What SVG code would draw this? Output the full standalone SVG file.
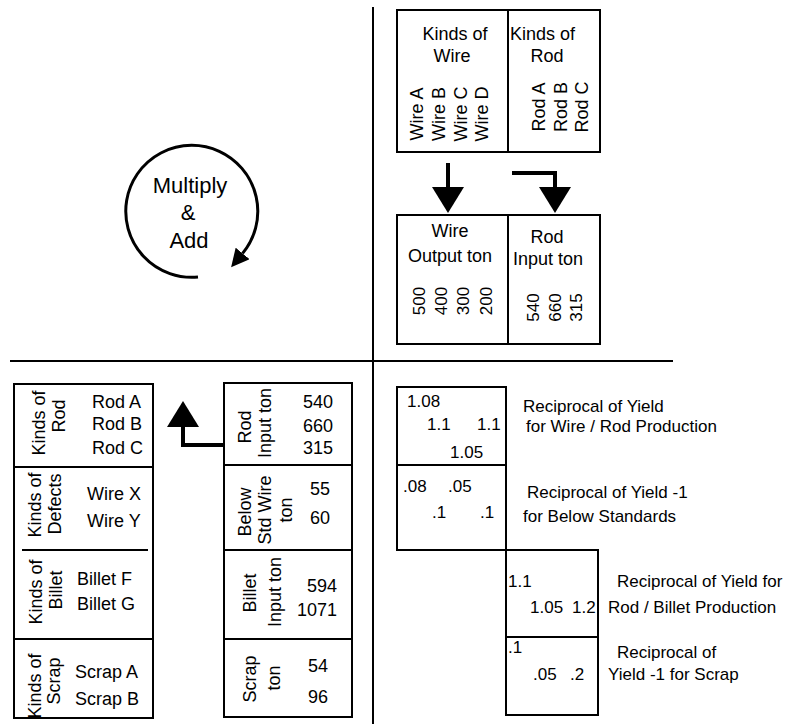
<svg xmlns="http://www.w3.org/2000/svg" width="804" height="724" viewBox="0 0 804 724">
<style>
text{font-family:"Liberation Sans",Arial,Helvetica,sans-serif;font-size:18px;fill:#000}
.s{font-size:17px}
.m{text-anchor:middle}
.e{text-anchor:end}
.box{fill:none;stroke:#000;stroke-width:2}
.ln{stroke:#000;stroke-width:2;fill:none}
.arr{stroke:#000;stroke-width:4;fill:none;marker-end:url(#big)}
</style>
<defs>
<marker id="big" markerUnits="userSpaceOnUse" viewBox="0 -16 26 32" refX="0" refY="0" markerWidth="26" markerHeight="32" orient="auto"><path d="M0,-16 L26,0 L0,16 z" fill="#000"/></marker>
<marker id="small" markerUnits="userSpaceOnUse" viewBox="0 -9 18 18" refX="0" refY="0" markerWidth="18" markerHeight="18" orient="auto"><path d="M0,-9 L18,0 L0,9 z" fill="#000"/></marker>
</defs>
<rect width="804" height="724" fill="#fff"/>
<g id="frame">
<line class="ln" x1="373" y1="7" x2="373" y2="724"/>
<line class="ln" x1="10" y1="361" x2="673" y2="361"/>
</g>
<g id="kinds-wire-rod">
<rect class="box" x="397" y="10" width="203" height="142"/>
<line class="ln" x1="508" y1="10" x2="508" y2="152"/>
<text class="m" x="455" y="40">Kinds of</text>
<text class="m" x="452" y="62">Wire</text>
<text x="510" y="40">Kinds of</text>
<text class="m" x="547" y="62">Rod</text>
<text class="m" transform="translate(423,114) rotate(-90)">Wire A</text>
<text class="m" transform="translate(445,114) rotate(-90)">Wire B</text>
<text class="m" transform="translate(466.5,114) rotate(-90)">Wire C</text>
<text class="m" transform="translate(488,114) rotate(-90)">Wire D</text>
<text class="m" transform="translate(545,107) rotate(-90)">Rod A</text>
<text class="m" transform="translate(566.5,107) rotate(-90)">Rod B</text>
<text class="m" transform="translate(588,107) rotate(-90)">Rod C</text>
</g>
<g id="output-input">
<rect class="box" x="397" y="215" width="203" height="129"/>
<line class="ln" x1="508" y1="215" x2="508" y2="344"/>
<text class="m" x="450" y="237">Wire</text>
<text class="m" x="450" y="262">Output ton</text>
<text class="m" x="547" y="243">Rod</text>
<text class="m" x="548" y="265">Input ton</text>
<text class="m s" transform="translate(425,301) rotate(-90)">500</text>
<text class="m s" transform="translate(447,301) rotate(-90)">400</text>
<text class="m s" transform="translate(469,301) rotate(-90)">300</text>
<text class="m s" transform="translate(492,301) rotate(-90)">200</text>
<text class="m s" transform="translate(539,307.5) rotate(-90)">540</text>
<text class="m s" transform="translate(561,307.5) rotate(-90)">660</text>
<text class="m s" transform="translate(582,307.5) rotate(-90)">315</text>
</g>
<g id="multiply-add">
<path d="M198,277 A66,66 0 1 1 242.6,253.4" fill="none" stroke="#000" stroke-width="3" marker-end="url(#small)"/>
<text class="m" style="font-size:22px" x="190" y="193">Multiply</text>
<text class="m" style="font-size:22px" x="188" y="220">&amp;</text>
<text class="m" style="font-size:22px" x="189" y="248">Add</text>
</g>
<g id="kinds-table">
<rect class="box" x="14" y="384" width="139" height="334"/>
<line class="ln" x1="14" y1="467" x2="153" y2="467"/>
<line class="ln" x1="22" y1="550" x2="148" y2="550"/>
<line class="ln" x1="14" y1="639" x2="153" y2="639"/>
<text class="m" transform="translate(45,423) rotate(-90)">Kinds of</text>
<text class="m" transform="translate(65,416) rotate(-90)">Rod</text>
<text x="92" y="408">Rod A</text>
<text x="92" y="430">Rod B</text>
<text x="92" y="454">Rod C</text>
<text class="m" transform="translate(41,505) rotate(-90)">Kinds of</text>
<text class="m" transform="translate(61,504) rotate(-90)">Defects</text>
<text x="87" y="500">Wire X</text>
<text x="87" y="527">Wire Y</text>
<text class="m" transform="translate(42,592) rotate(-90)">Kinds of</text>
<text class="m" transform="translate(62,590) rotate(-90)">Billet</text>
<text x="77" y="585">Billet F</text>
<text x="77" y="610">Billet G</text>
<text class="m" transform="translate(41,686) rotate(-90)">Kinds of</text>
<text class="m" transform="translate(60,681) rotate(-90)">Scrap</text>
<text x="75" y="678">Scrap A</text>
<text x="75" y="705">Scrap B</text>
</g>
<g id="ton-table">
<rect class="box" x="224" y="383" width="128" height="334"/>
<line class="ln" x1="224" y1="465" x2="352" y2="465"/>
<line class="ln" x1="224" y1="550" x2="352" y2="550"/>
<line class="ln" x1="224" y1="639" x2="352" y2="639"/>
<text class="m" transform="translate(251,427) rotate(-90)">Rod</text>
<text class="m" transform="translate(271,423) rotate(-90)">Input ton</text>
<text x="303" y="408">540</text>
<text x="303" y="432">660</text>
<text x="303" y="454">315</text>
<text class="m" transform="translate(251,512) rotate(-90)">Below</text>
<text class="m" transform="translate(271,510) rotate(-90)">Std Wire</text>
<text class="m" transform="translate(292,510) rotate(-90)">ton</text>
<text x="310" y="495">55</text>
<text x="310" y="524">60</text>
<text class="m" transform="translate(256,593) rotate(-90)">Billet</text>
<text class="m" transform="translate(281,592) rotate(-90)">Input ton</text>
<text class="e" x="337" y="592">594</text>
<text class="e" x="337" y="616">1071</text>
<text class="m" transform="translate(256,679) rotate(-90)">Scrap</text>
<text class="m" transform="translate(280,678) rotate(-90)">ton</text>
<text x="308" y="672">54</text>
<text x="308" y="703">96</text>
</g>
<g id="yield-wire-rod">
<rect class="box" x="397" y="387" width="109" height="163"/>
<line class="ln" x1="397" y1="465" x2="506" y2="465"/>
<text class="s" x="407" y="407">1.08</text>
<text class="s" x="427" y="430">1.1</text>
<text class="s" x="477" y="430">1.1</text>
<text class="s" x="450" y="458">1.05</text>
<text class="s" x="403" y="492">.08</text>
<text class="s" x="448" y="492">.05</text>
<text class="s" x="432" y="518">.1</text>
<text class="s" x="480" y="518">.1</text>
</g>
<g id="yield-rod-billet">
<rect class="box" x="506" y="550" width="92" height="165"/>
<line class="ln" x1="506" y1="637" x2="598" y2="637"/>
<text class="s" x="508" y="587">1.1</text>
<text class="s" x="530" y="613">1.05</text>
<text class="s" x="572" y="613">1.2</text>
<text class="s" x="508" y="653">.1</text>
<text class="s" x="533" y="680">.05</text>
<text class="s" x="570" y="680">.2</text>
</g>
<g id="labels">
<text class="s" x="523" y="412">Reciprocal of Yield</text>
<text class="s" x="526" y="432">for Wire / Rod Production</text>
<text class="s" x="527" y="498">Reciprocal of Yield -1</text>
<text class="s" x="523" y="522">for Below Standards</text>
<text class="s" x="617" y="587">Reciprocal of Yield for</text>
<text class="s" x="608" y="613">Rod / Billet Production</text>
<text class="s" x="617" y="658">Reciprocal of</text>
<text class="s" x="608" y="680">Yield -1 for Scrap</text>
</g>
<g id="connectors">
<path class="arr" d="M448,163 L448,187"/>
<path class="arr" d="M512,173 L555,173 L555,187"/>
<path class="arr" d="M224,445 L183,445 L183,427"/>
</g>
</svg>
